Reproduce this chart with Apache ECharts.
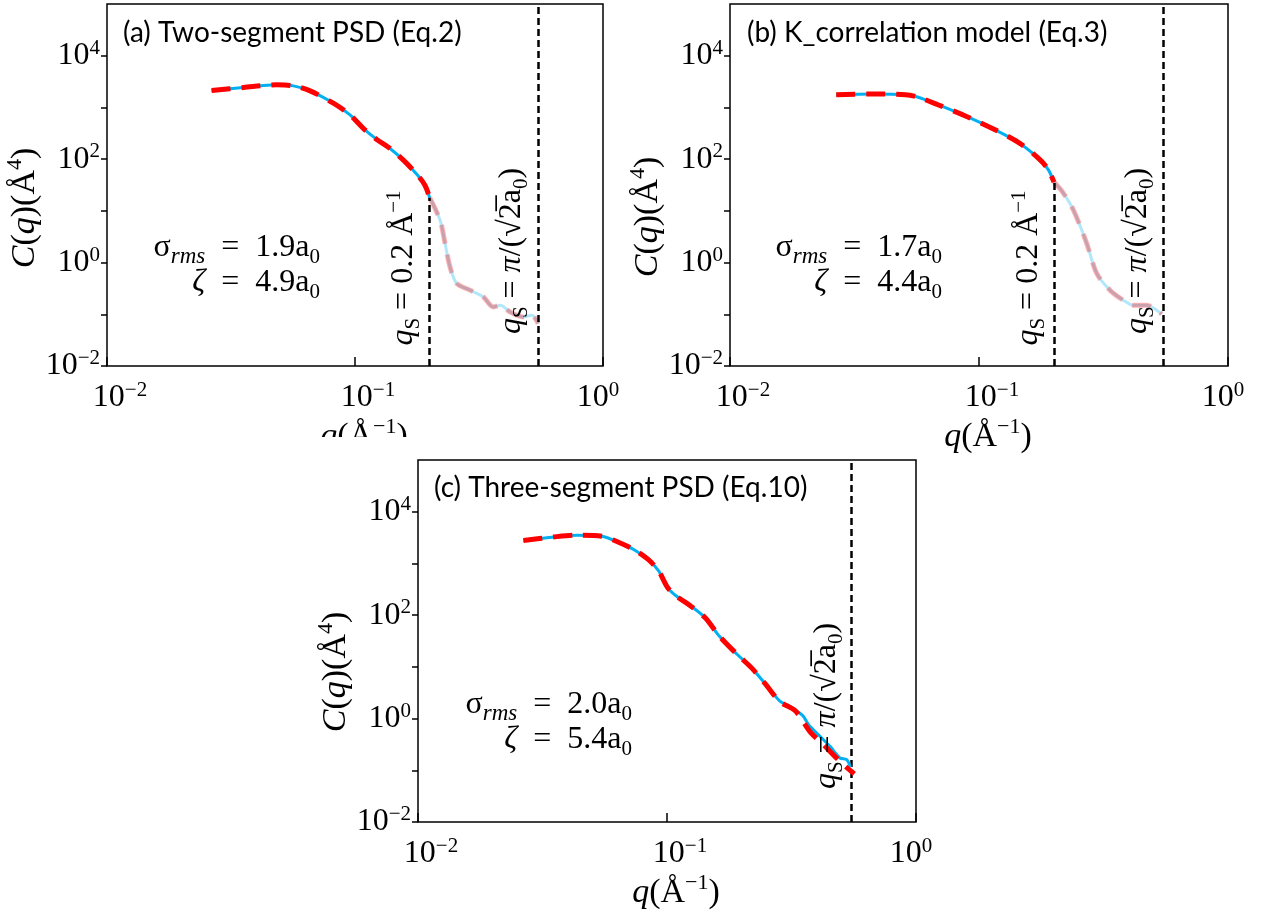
<!DOCTYPE html>
<html><head><meta charset="utf-8">
<script src="https://cdn.jsdelivr.net/npm/echarts@6/dist/echarts.min.js"></script>
<style>html,body{margin:0;padding:0;background:#fff}#c{width:1262px;height:918px}</style>
</head><body><div id="c"></div>
<script>
// ---------- data ----------
const qA = [0.0264, 0.0355, 0.0483, 0.0564, 0.0659, 0.0818, 0.0955, 0.108, 0.1224, 0.1384, 0.1567, 0.1775, 0.1914, 0.2, 0.2202, 0.2307, 0.2415, 0.257, 0.291, 0.329, 0.361, 0.385, 0.422, 0.477, 0.516, 0.548];
const cA = [2120, 2425, 2735, 2612, 2090, 1207, 715, 394, 241, 161, 95.7, 51, 31.3, 18, 6.66, 2.36, 0.83, 0.395, 0.293, 0.217, 0.139, 0.150, 0.111, 0.089, 0.096, 0.066];
const qB = [0.0267, 0.0375, 0.0506, 0.0566, 0.0684, 0.0891, 0.116, 0.1455, 0.176, 0.190, 0.2, 0.216, 0.2393, 0.2707, 0.297, 0.3357, 0.3797, 0.4167, 0.4716, 0.5173, 0.5417];
const cB = [1762, 1820, 1762, 1592, 1128, 669, 370, 204, 96.9, 62, 36, 23.5, 10.4, 2.36, 0.618, 0.293, 0.1875, 0.150, 0.150, 0.120, 0.1005];
const qC = [0.0265, 0.0345, 0.0434, 0.0547, 0.0645, 0.0735, 0.084, 0.0927, 0.1007, 0.1093, 0.1248, 0.1424, 0.1624, 0.1916, 0.2186, 0.2496, 0.2847, 0.312, 0.336, 0.3527, 0.371, 0.4116, 0.4516, 0.495, 0.527, 0.545];
const cC = [2782, 3222, 3524, 3367, 2511, 1862, 1193, 708, 338, 232, 149, 88.8, 39.1, 17.3, 9.55, 4.54, 2.16, 1.73, 1.35, 1.11, 0.75, 0.454, 0.29, 0.173, 0.161, 0.115];
const qCfit = [0.0265, 0.0345, 0.0434, 0.0547, 0.0645, 0.0735, 0.084, 0.0927, 0.1007, 0.1093, 0.1248, 0.1424, 0.1624, 0.1916, 0.2186, 0.2496, 0.2847, 0.3266, 0.378, 0.42, 0.469, 0.52, 0.565];
const cCfit = [2782, 3222, 3524, 3367, 2511, 1862, 1193, 708, 338, 232, 149, 88.8, 39.1, 17.3, 9.55, 4.54, 2.1, 1.43, 0.534, 0.33, 0.192, 0.12, 0.085];
const qsCut = 0.2;
const qsMax = 0.545;
const xTickExp = [-2, -1, 0];
const yTickExp = [-2, 0, 2, 4];
const titles = ['(a) Two-segment PSD (Eq.2)', '(b) K_correlation model (Eq.3)', '(c) Three-segment PSD (Eq.10)'];
const sigmaVals = ['1.9', '1.7', '2.0'];
const zetaVals = ['4.9', '4.4', '5.4'];

// ---------- style ----------
const SERIF = '"Liberation Serif", "DejaVu Serif", serif';
const SANS = 'Lato, "Open Sans", sans-serif';
const BLUE = '#00B0F0', RED = '#FF0000', FADE = 0.3;

function makeRich(fs) {
  const sub = Math.round(fs * 0.66);
  return {
    n: {fontFamily: SERIF, fontSize: fs, color: '#000', lineHeight: fs + 8},
    i: {fontFamily: SERIF, fontSize: fs, fontStyle: 'italic', color: '#000', lineHeight: fs + 8},
    s: {fontFamily: SERIF, fontSize: sub, color: '#000', verticalAlign: 'top', lineHeight: sub + 2},
    d: {fontFamily: SERIF, fontSize: sub, color: '#000', verticalAlign: 'bottom', lineHeight: sub + 6},
    di: {fontFamily: SERIF, fontSize: sub + 2, fontStyle: 'italic', color: '#000', verticalAlign: 'bottom', lineHeight: sub + 6}
  };
}
const mathRich = makeRich(32);
const nameRich = makeRich(34);
const tickRich = {
  b: {fontFamily: SERIF, fontSize: 32, color: '#000', lineHeight: 36},
  s: {fontFamily: SERIF, fontSize: 21, color: '#000', verticalAlign: 'top', lineHeight: 20},
  pl: {width: 26, fontSize: 10},
  pr: {width: 10, fontSize: 10}
};
function expLabel(e) { return '{b|10}{s|' + (e < 0 ? '\u2212' + (-e) : e) + '}'; }

const grids = [
  {left: 107, top: 4, width: 496, height: 362},
  {left: 730, top: 4, width: 498, height: 362},
  {left: 418, top: 460, width: 498, height: 362}
];
const yNameGap = [45, 53, 52];
const yNameShift = [23, 32, 31];

const option = {
  animation: false,
  backgroundColor: '#fff',
  grid: grids.map((g, i) => Object.assign({show: true, borderColor: '#000', borderWidth: 1.5, backgroundColor: 'transparent', z: i === 2 ? 5 : 0}, g)),
  xAxis: grids.map((g, i) => ({
    type: 'log', logBase: 10, gridIndex: i, min: 0.01, max: 1, splitNumber: 2, z: i === 2 ? 5 : 0,
    axisLine: {show: false}, splitLine: {show: false},
    axisTick: {inside: true, length: 9, lineStyle: {color: '#000', width: 1.5}},
    axisLabel: {margin: 14, color: '#000', rich: tickRich,
      formatter: v => {
        const e = Math.round(Math.log10(v));
        if (!xTickExp.includes(e)) return '';
        return e < 0 ? '{pl|}' + expLabel(e) : expLabel(e) + '{pr|}';
      }},
    name: '{i|q}{n|(Å}{s|\u22121}{n|)}', nameLocation: 'middle', nameGap: 50,
    nameTextStyle: {rich: nameRich, padding: [0, 0, 0, 18]}
  })),
  yAxis: grids.map((g, i) => ({
    type: 'log', logBase: 10, gridIndex: i, min: 0.01, max: 100000, splitNumber: 4, z: i === 2 ? 5 : 0,
    axisLine: {show: false}, splitLine: {show: false},
    axisTick: {inside: false, length: 6, lineStyle: {color: '#000', width: 1.5}},
    axisLabel: {margin: 7, color: '#000', rich: tickRich, showMaxLabel: false,
      formatter: v => { const e = Math.round(Math.log10(v)); return yTickExp.includes(e) ? expLabel(e) : ''; }},
    name: '{i|C}{n|(}{i|q}{n|)(Å}{s|4}{n|)}', nameLocation: 'middle', nameGap: yNameGap[i],
    nameTextStyle: {rich: nameRich, padding: [0, yNameShift[i] * 2, 0, 0]}
  })),
  series: [],
  graphic: []
};

function pts(q, c) { return q.map((v, k) => [v, c[k]]); }
function splitIdx(q, cut) { return q.findIndex(v => v >= cut); }

const vLineStyle = {color: '#000', width: 2.5, type: [7, 4]};
const blueStyle = {color: BLUE, width: 3};
const redStyle = {color: RED, width: 5, type: [19, 11]};

function addPanelFaded(gi, q, c) {
  const k = splitIdx(q, qsCut);
  const head = pts(q.slice(0, k + 1), c.slice(0, k + 1));
  const tail = pts(q.slice(k), c.slice(k));
  const base = {type: 'line', xAxisIndex: gi, yAxisIndex: gi, showSymbol: false, smooth: 0.3, silent: true};
  option.series.push(Object.assign({}, base, {
    data: head, z: 2, lineStyle: blueStyle,
    markLine: {silent: true, symbol: ['none', 'none'], label: {show: false}, lineStyle: vLineStyle,
      data: [[{coord: [qsCut, 0.01]}, {coord: [qsCut, c[k]]}], {xAxis: qsMax}]}
  }));
  option.series.push(Object.assign({}, base, {data: tail, z: 2, lineStyle: Object.assign({opacity: FADE}, blueStyle)}));
  option.series.push(Object.assign({}, base, {data: head, z: 3, lineStyle: redStyle}));
  option.series.push(Object.assign({}, base, {data: tail, z: 3, lineStyle: Object.assign({opacity: FADE}, redStyle)}));
}
addPanelFaded(0, qA, cA);
addPanelFaded(1, qB, cB);
option.series.push({type: 'line', xAxisIndex: 2, yAxisIndex: 2, showSymbol: false, smooth: 0.3, silent: true, z: 6,
  data: pts(qC, cC), lineStyle: blueStyle,
  markLine: {silent: true, symbol: ['none', 'none'], label: {show: false}, lineStyle: vLineStyle, data: [{xAxis: qsMax}]}});
option.series.push({type: 'line', xAxisIndex: 2, yAxisIndex: 2, showSymbol: false, smooth: 0.3, silent: true, z: 7,
  data: pts(qCfit, cCfit), lineStyle: redStyle});

// ---------- annotations ----------
const G = option.graphic;
// white backdrop of panel (c) overlapping panel (a)'s x label
G.push({type: 'rect', z: 1, silent: true, shape: {x: 290, y: 437, width: 645, height: 481}, style: {fill: '#fff'}});
const titlePos = [[123, 33], [747, 33], [434, 488]];
titles.forEach((t, i) => G.push({type: 'text', z: 10, x: titlePos[i][0], y: titlePos[i][1],
  style: {text: t, font: '28px ' + SANS, fill: '#000', align: 'left', verticalAlign: 'middle'}}));
const paramPos = [[320, 248], [942, 248], [632, 705]];
const EQ = '\u2002=\u2002';
paramPos.forEach((p, i) => {
  G.push({type: 'text', z: 10, x: p[0], y: p[1], style: {rich: mathRich, align: 'right', verticalAlign: 'middle',
    text: '{n|σ}{di|rms}{n|' + EQ + sigmaVals[i] + 'a}{d|0}'}});
  G.push({type: 'text', z: 10, x: p[0], y: p[1] + 35, style: {rich: mathRich, align: 'right', verticalAlign: 'middle',
    text: '{i|ζ}{n|' + EQ + zetaVals[i] + 'a}{d|0}'}});
});
const lab02 = '{i|q}{d|S}{n| = 0.2 Å}{s|\u22121}';
const labPi = '{i|q}{d|S}{n| = }{i|π}{n|/(√2\u0305a}{d|0}{n|)}';
[[404, 268, lab02], [512, 251, labPi], [1029, 268, lab02], [1138, 251, labPi], [827, 706, labPi]].forEach(r =>
  G.push({type: 'text', z: 10, x: r[0], y: r[1], rotation: Math.PI / 2,
    style: {rich: mathRich, text: r[2], align: 'center', verticalAlign: 'middle'}}));

const chart = echarts.init(document.getElementById('c'), null, {renderer: 'canvas'});
chart.setOption(option);
</script>
</body></html>
